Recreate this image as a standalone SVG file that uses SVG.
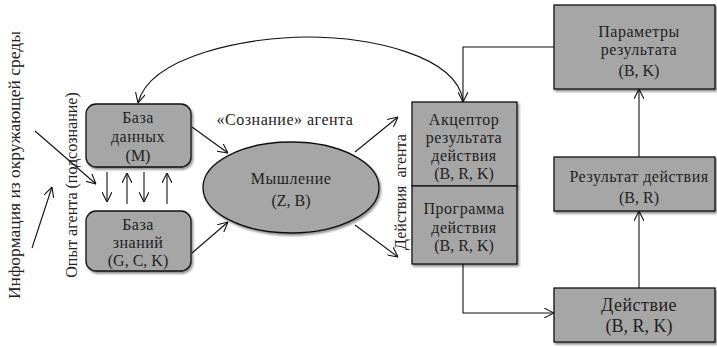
<svg xmlns="http://www.w3.org/2000/svg" width="717" height="347" viewBox="0 0 717 347" font-family="'Liberation Serif', Tinos, 'Times New Roman', 'DejaVu Serif', serif">
<style>
.t{font-family:'Liberation Serif',Tinos,'Times New Roman','DejaVu Serif',serif;font-size:16px;fill:#222;text-anchor:middle}
.w{letter-spacing:0.5px}
.big{font-size:18px}
.lbl{font-size:17.5px}
.box{fill:#a6a6a6;stroke:#111;stroke-width:1.3}
.c{fill:none;stroke:#111;stroke-width:1.1}
</style>
<defs>
<marker id="ah" viewBox="0 0 10 10" refX="10" refY="5" markerWidth="10" markerHeight="10" markerUnits="userSpaceOnUse" orient="auto">
<path d="M0,0 L10,5 L0,10" fill="none" stroke="#111" stroke-width="1.1"/>
</marker>
<filter id="sh" x="-10%" y="-10%" width="130%" height="130%">
<feDropShadow dx="1.5" dy="2" stdDeviation="1.2" flood-color="#000" flood-opacity="0.45"/>
</filter>
</defs>

<g id="side-labels">
<text class="t lbl" transform="translate(20,165) rotate(-90)">Информация из окружающей среды</text>
<text class="t" transform="translate(77,185) rotate(-90)">Опыт агента (подсознание)</text>
<text class="t" transform="translate(406,192) rotate(-90)" xml:space="preserve">Действия  агента</text>
<text class="t w" x="285" y="125">«Сознание» агента</text>
</g>

<g id="db">
<rect class="box" x="86" y="104" width="105" height="63" rx="10" filter="url(#sh)"/>
<text class="t w" x="138" y="123">База</text>
<text class="t w" x="138" y="142">данных</text>
<text class="t" x="138" y="161">(M)</text>
</g>

<g id="kb">
<rect class="box" x="86" y="211" width="105" height="60" rx="10" filter="url(#sh)"/>
<text class="t w" x="138" y="230">База</text>
<text class="t w" x="138" y="248">знаний</text>
<text class="t" x="138" y="266">(G, C, K)</text>
</g>

<g id="thinking">
<ellipse class="box" cx="291" cy="187.5" rx="88" ry="45.5" filter="url(#sh)"/>
<text class="t w" x="291" y="184">Мышление</text>
<text class="t" x="291" y="206">(Z, B)</text>
</g>

<g id="acceptor">
<rect class="box" x="412" y="102" width="105" height="84" filter="url(#sh)"/>
<text class="t w" x="464" y="125">Акцептор</text>
<text class="t w" x="464" y="143">результата</text>
<text class="t w" x="464" y="161">действия</text>
<text class="t" x="464" y="179">(B, R, K)</text>
</g>

<g id="program">
<rect class="box" x="412" y="186" width="105" height="78" filter="url(#sh)"/>
<text class="t w" x="464" y="214">Программа</text>
<text class="t w" x="464" y="233">действия</text>
<text class="t" x="464" y="251">(B, R, K)</text>
</g>

<g id="params">
<rect class="box" x="554" y="5" width="161" height="84" filter="url(#sh)"/>
<text class="t w" x="639" y="37">Параметры</text>
<text class="t w" x="639" y="55">результата</text>
<text class="t" x="639" y="76">(B, K)</text>
</g>

<g id="result">
<rect class="box" x="554" y="157" width="161" height="54" filter="url(#sh)"/>
<text class="t w" x="639" y="182">Результат действия</text>
<text class="t" x="639" y="203">(B, R)</text>
</g>

<g id="action">
<rect class="box" x="554" y="288" width="161" height="54" filter="url(#sh)"/>
<text class="t big w" x="639" y="311">Действие</text>
<text class="t big" x="639" y="332">(B, R, K)</text>
</g>

<g id="connectors">
<path class="c" d="M35,131 L96,184" marker-end="url(#ah)"/>
<path class="c" d="M32,248 L52,187" marker-end="url(#ah)"/>
<path class="c" d="M107,172 L107,202" marker-end="url(#ah)"/>
<path class="c" d="M127,204 L127,173" marker-end="url(#ah)"/>
<path class="c" d="M144,172 L144,202" marker-end="url(#ah)"/>
<path class="c" d="M167,204 L167,173" marker-end="url(#ah)"/>
<path class="c" d="M192,127 L228,153" marker-end="url(#ah)"/>
<path class="c" d="M192,253 L228,222" marker-end="url(#ah)"/>
<path class="c" d="M355,152 L398,117" marker-end="url(#ah)"/>
<path class="c" d="M355,225 L398,257" marker-end="url(#ah)"/>
<path class="c" d="M463,264 L463,313 L554,313" marker-end="url(#ah)"/>
<path class="c" d="M639,288 L639,211" marker-end="url(#ah)"/>
<path class="c" d="M639,157 L639,89" marker-end="url(#ah)"/>
<path class="c" d="M554,47 L463,47 L463,102" marker-end="url(#ah)"/>
<path class="c" d="M463,100 C455,55 370,37 307,37 C250,37 150,55 138,103" marker-end="url(#ah)"/>
</g>
</svg>
